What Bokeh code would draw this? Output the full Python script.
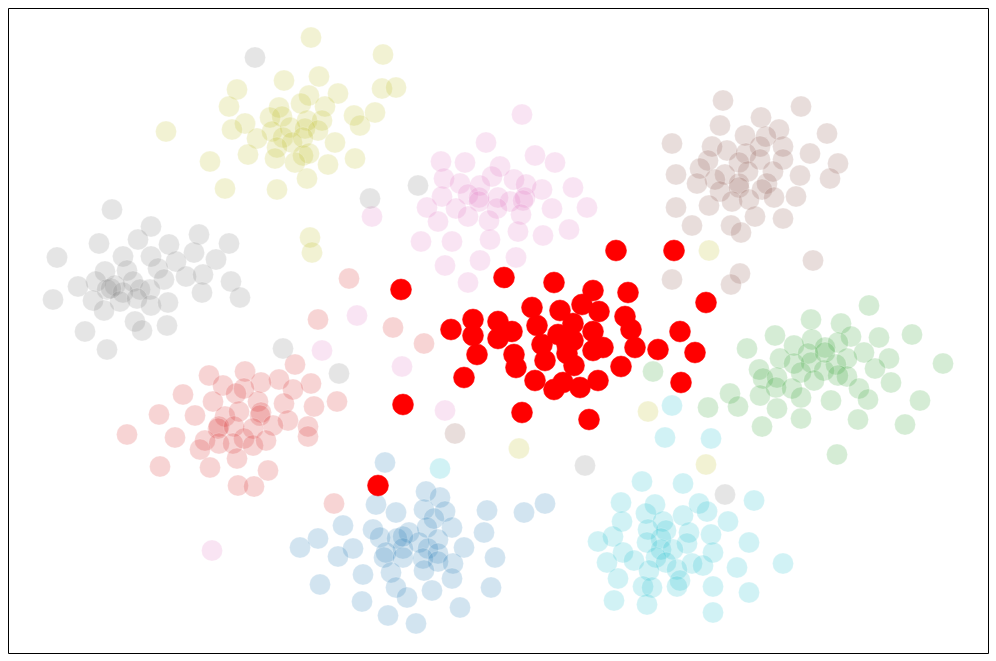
from bokeh.plotting import figure
from bokeh.models import Range1d
from bokeh.embed import file_html
from bokeh.resources import INLINE

olive_x = [311,284,319,237,229,338,309,301,325,279,270,282,307,322,245,232,166,272,290,305,318,257,283,292,303,335,277,248,275,303,309,295,328,210,307,225,277,310,312,383,382,396,375,354,360,355,709,648,519,706]
olive_y = [37,80,76,89,106,93,95,103,106,107,117,116,120,120,123,129,131,131,127,128,130,138,137,142,137,142,147,154,158,155,153,162,164,161,178,188,189,237,252,54,88,87,112,115,125,158,250,411,448,464]
gray_x = [255,112,151,99,138,169,199,229,57,123,151,194,176,216,105,127,158,164,186,203,96,78,115,133,107,140,150,123,231,202,240,53,93,120,137,151,168,104,135,142,167,85,107,283,339,370,418,585,725,111]
gray_y = [57,209,226,243,239,244,234,243,257,256,256,252,261,259,271,270,268,279,276,274,281,286,285,281,289,289,289,292,281,292,297,299,300,301,298,305,302,310,321,330,325,331,349,348,373,198,185,465,494,288]
pink_x = [522,486,441,465,535,555,500,444,460,492,480,514,526,542,573,442,468,479,479,498,510,525,523,427,456,468,497,521,552,587,438,489,518,569,543,421,452,490,445,480,516,468,372,357,402,445,322,212]
pink_y = [114,142,161,162,155,162,166,178,183,176,185,179,184,189,187,196,194,197,201,197,201,197,200,207,208,216,208,214,208,207,221,220,231,229,235,241,241,239,265,260,257,282,216,315,366,410,350,550]
brown_x = [723,801,761,720,779,672,745,766,827,712,727,760,783,746,810,708,739,760,783,838,700,676,725,748,773,800,715,697,739,767,830,720,739,762,732,749,774,796,676,709,755,783,692,731,741,813,672,740,731,455]
brown_y = [100,106,117,125,129,143,135,136,133,146,150,146,146,153,153,160,162,159,159,163,168,174,174,171,171,175,179,183,183,183,178,191,187,189,201,199,197,196,207,205,216,218,225,225,232,260,279,273,284,433]
green_x = [869,811,841,775,812,851,879,912,747,794,825,838,780,808,864,889,943,847,794,811,836,759,824,801,847,875,763,777,814,838,891,776,792,859,730,760,801,738,777,831,868,920,708,858,801,762,905,837,653,825]
green_y = [305,319,323,335,339,336,337,334,348,345,347,342,358,353,352,358,363,358,363,362,364,369,370,372,376,368,378,377,380,375,382,387,388,388,393,395,397,406,408,400,399,400,407,419,418,426,424,454,371,352]
tabred_x = [295,209,245,279,311,223,261,244,236,293,183,337,213,258,284,314,159,195,225,239,261,260,288,219,218,234,273,308,308,127,175,205,253,244,219,233,253,266,200,237,160,210,268,238,254,334,349,318,393,424]
tabred_y = [364,375,371,379,383,385,382,388,393,389,394,401,401,401,403,406,414,415,416,411,412,415,420,426,428,426,425,426,436,434,437,440,428,438,443,443,445,440,449,458,466,467,470,485,486,503,278,319,327,343]
blue_x = [385,426,440,376,396,424,487,524,545,445,434,343,373,409,427,452,484,318,380,397,419,438,403,300,353,464,338,386,384,403,428,438,423,438,453,495,391,424,363,320,452,396,432,491,407,362,460,388,416,403]
blue_y = [462,491,497,504,512,509,510,512,503,511,518,525,529,532,527,527,532,538,537,538,542,539,548,547,548,547,556,552,557,557,548,553,558,561,563,557,572,570,574,584,578,587,590,587,597,601,607,615,623,536]
cyan_x = [642,683,754,621,655,699,707,646,622,683,663,728,648,666,689,613,598,711,661,647,687,749,661,673,623,713,656,634,607,666,692,703,783,649,677,737,618,680,643,652,677,713,749,614,647,713,440,672,665,711]
cyan_y = [481,483,500,502,504,503,511,513,521,515,521,521,529,530,532,536,541,534,538,542,543,542,549,549,552,552,557,560,562,562,563,565,563,570,569,567,578,580,586,587,586,586,592,600,604,612,468,405,437,438]
selected_x = [616,674,504,554,593,628,401,532,582,599,625,560,473,498,512,451,537,573,593,631,558,473,498,573,542,567,603,593,635,658,477,514,567,545,516,574,621,464,535,563,598,580,554,403,522,589,706,680,695,681,378]
selected_y = [250,250,277,282,290,292,289,307,304,311,316,310,319,321,331,329,325,323,331,329,334,335,338,340,344,344,347,350,347,349,354,354,353,360,367,365,366,377,380,382,380,387,389,404,412,419,302,331,352,382,485]

groups = [
    (blue_x, blue_y, "#1f77b4"),
    (cyan_x, cyan_y, "#17becf"),
    (green_x, green_y, "#2ca02c"),
    (tabred_x, tabred_y, "#d62728"),
    (olive_x, olive_y, "#bcbd22"),
    (brown_x, brown_y, "#8c564b"),
    (pink_x, pink_y, "#e377c2"),
    (gray_x, gray_y, "#7f7f7f"),
]

p = figure(width=996, height=661, output_backend="svg", toolbar_location=None,
           x_range=Range1d(8.5, 988.5), y_range=Range1d(653, 8),
           min_border=8, x_axis_type="linear")
p.axis.visible = False
p.grid.visible = False
p.outline_line_color = "#000000"
p.outline_line_width = 1
p.background_fill_color = "#ffffff"
p.border_fill_color = "#ffffff"

for xs, ys, col in groups:
    p.scatter(xs, ys, size=21, marker="circle", fill_color=col, fill_alpha=0.2,
              line_color="#ffffff", line_alpha=0.2, line_width=1)
p.scatter(selected_x, selected_y, size=21, marker="circle", fill_color="#ff0000",
          fill_alpha=1.0, line_color="#ff0000", line_alpha=1.0, line_width=0.5)

open("out.html", "w").write(file_html(p, INLINE))
